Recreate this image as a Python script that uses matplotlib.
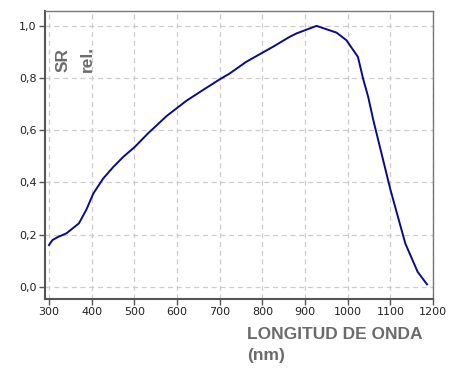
import matplotlib
matplotlib.use("Agg")
import matplotlib.pyplot as plt
from matplotlib.ticker import FixedLocator, FixedFormatter

# respuesta espectral relativa
wavelength = [300, 308, 320, 341, 370, 387, 404, 427, 451, 474, 501, 532,
              576, 622, 654, 700, 723, 762, 800, 825, 864, 880, 927, 974,
              997, 1024, 1036, 1048, 1060, 1100, 1135, 1164, 1186]
sr_rel = [0.16, 0.179, 0.19, 0.205, 0.243, 0.294, 0.358, 0.415, 0.46, 0.498,
          0.536, 0.588, 0.655, 0.713, 0.747, 0.795, 0.817, 0.862, 0.897,
          0.920, 0.958, 0.971, 1.0, 0.974, 0.945, 0.881, 0.798, 0.728, 0.639,
          0.373, 0.166, 0.057, 0.009]

x_ticks = [300, 400, 500, 600, 700, 800, 900, 1000, 1100, 1200]
y_ticks = [0.0, 0.2, 0.4, 0.6, 0.8, 1.0]
y_tick_labels = ["0,0", "0,2", "0,4", "0,6", "0,8", "1,0"]

label_gray = "#6b6b6b"

fig = plt.figure(figsize=(4.56, 3.73), dpi=100)
ax = fig.add_axes([0.0987, 0.1984, 0.8509, 0.7721])

ax.plot(wavelength, sr_rel, color="#0a0a8a", linewidth=1.4)

ax.set_xlim(290.5, 1200)
ax.set_ylim(-0.047, 1.057)

ax.xaxis.set_major_locator(FixedLocator(x_ticks))
ax.yaxis.set_major_locator(FixedLocator(y_ticks))
ax.yaxis.set_major_formatter(FixedFormatter(y_tick_labels))

ax.grid(True, color="#cccccc", linestyle=(0, (4, 3)), linewidth=0.9)
ax.set_axisbelow(True)

for side in ["left", "bottom"]:
    ax.spines[side].set_color("#555555")
    ax.spines[side].set_linewidth(1.5)
for side in ["top", "right"]:
    ax.spines[side].set_color("#777777")
    ax.spines[side].set_linewidth(1.0)

ax.tick_params(direction="out", length=4, width=1, color="#555555",
               labelsize=8, labelcolor="#222222", pad=2)

# etiquetas de ejes
fig.text(0.1228, 0.807, "SR\nrel.", rotation=90, ha="left", va="bottom",
         fontsize=12.5, fontweight="bold", color=label_gray,
         family="Liberation Sans", linespacing=1.75, multialignment="left")
fig.text(0.542, 1 - 327 / 373, "LONGITUD DE ONDA\n(nm)", ha="left", va="top",
         fontsize=12.5, fontweight="bold", color=label_gray,
         family="Liberation Sans", linespacing=1.5)

fig.savefig("out.png", dpi=100)
